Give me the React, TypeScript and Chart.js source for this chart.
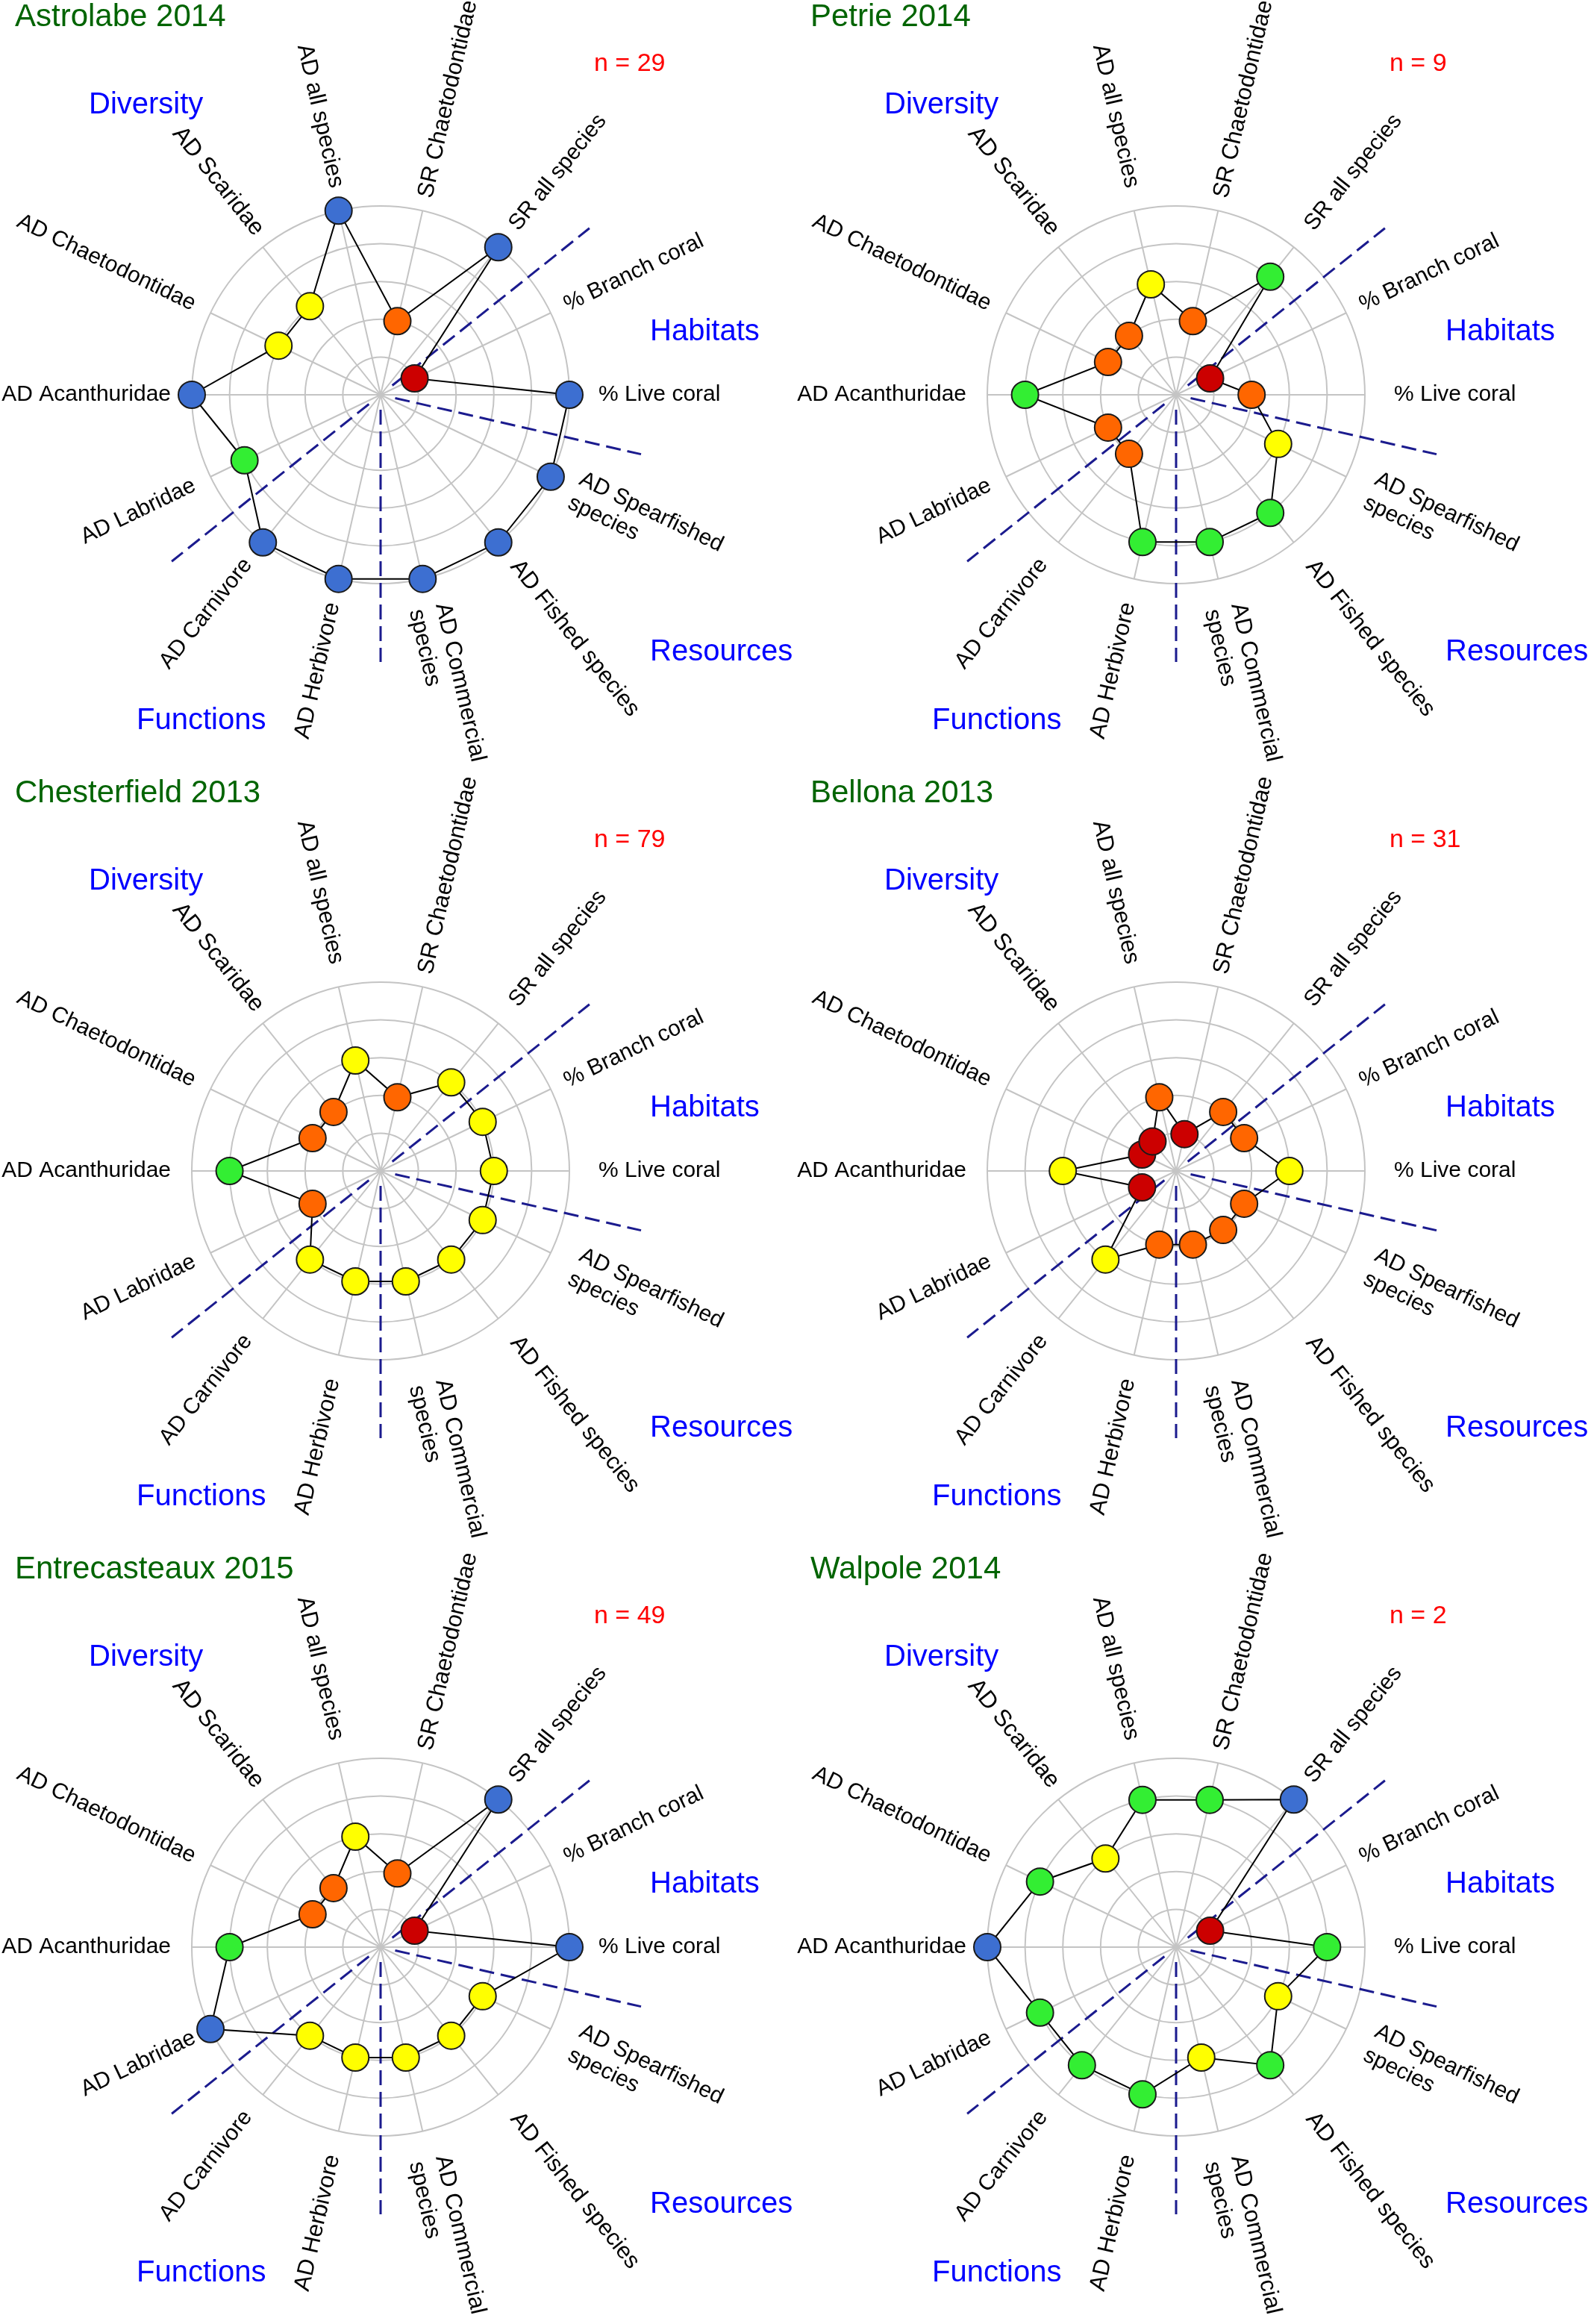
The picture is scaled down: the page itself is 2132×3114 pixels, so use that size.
import React, { useEffect, useRef } from 'react';
import { Chart, registerables } from 'chart.js';

Chart.register(...registerables);

// Axis labels, listed clockwise starting at the right-hand (east) axis
const AXIS_LABELS: string[][] = [
  ['% Live coral'],
  ['AD Spearfished', 'species'],
  ['AD Fished species'],
  ['AD Commercial', 'species'],
  ['AD Herbivore'],
  ['AD Carnivore'],
  ['AD Labridae'],
  ['AD Acanthuridae'],
  ['AD Chaetodontidae'],
  ['AD Scaridae'],
  ['AD all species'],
  ['SR Chaetodontidae'],
  ['SR all species'],
  ['% Branch coral'],
];

const SITE_NAMES = [
  'Astrolabe 2014',
  'Petrie 2014',
  'Chesterfield 2013',
  'Bellona 2013',
  'Entrecasteaux 2015',
  'Walpole 2014',
];
const SITE_N = [29, 9, 79, 31, 49, 2];

// Scores (1-5) in the same order as AXIS_LABELS
const ASTROLABE_2014 = [5, 5, 5, 5, 5, 5, 4, 5, 3, 3, 5, 2, 5, 1];
const PETRIE_2014 = [2, 3, 4, 4, 4, 2, 2, 4, 2, 2, 3, 2, 4, 1];
const CHESTERFIELD_2013 = [3, 3, 3, 3, 3, 3, 2, 4, 2, 2, 3, 2, 3, 3];
const BELLONA_2013 = [3, 2, 2, 2, 2, 3, 1, 3, 1, 1, 2, 1, 2, 2];
const ENTRECASTEAUX_2015 = [5, 3, 3, 3, 3, 3, 5, 4, 2, 2, 3, 2, 5, 1];
const WALPOLE_2014 = [4, 3, 4, 3, 4, 4, 4, 5, 4, 3, 4, 4, 5, 1];

const SITE_VALUES = [
  ASTROLABE_2014,
  PETRIE_2014,
  CHESTERFIELD_2013,
  BELLONA_2013,
  ENTRECASTEAUX_2015,
  WALPOLE_2014,
];

const SCALE_MIN = 0;
const SCALE_MAX = 5;

const CATEGORY_NAMES = ['Diversity', 'Habitats', 'Resources', 'Functions'];
// divider drawn between axis i and axis i+1
const DIVIDER_AFTER = [0, 3, 5, 12];

// ---- styles / layout ----
const SCORE_COLORS = ['#CC0000', '#FF6600', '#FFFF00', '#33EE33', '#3D6FD1'];
const FONT = '"Liberation Sans", Arial, Helvetica, sans-serif';
const PW = 1066;
const PH = 1040;
const CX = 510;
const CY = 529;
const R = 253;
// per-label styling: radial gap past the outer ring, font size, sideways shift
const LABEL_GAP = [39, 37, 35, 38, 33, 32, 24, 28, 24, 18, 31, 18, 33, 22];
const LABEL_SIZE = [30, 30, 31, 31, 31, 30, 30, 30, 30, 31.5, 31, 31, 30, 30];
const LABEL_SHIFT = [0, 2, 0, 0, 0, 0, 0, 0, 0, -8, -4, 0, 0, 0];
const CATEGORY_POS: [number, number][] = [
  [119, 152],
  [871, 456],
  [871, 885],
  [183, 977],
];

const decorPlugin = {
  id: 'decor',
  beforeDatasetsDraw(chart: any) {
    const s = chart.scales.r;
    const ctx = chart.ctx as CanvasRenderingContext2D;
    const n = chart.data.labels.length;
    ctx.save();
    ctx.strokeStyle = '#1B1B8E';
    ctx.lineWidth = 3;
    ctx.setLineDash([20, 9]);
    DIVIDER_AFTER.forEach((i) => {
      const a1 = s.getIndexAngle(i);
      const a2 = s.getIndexAngle((i + 1) % n) + (i + 1 === n ? Math.PI * 2 : 0);
      const a = (a1 + a2) / 2 - Math.PI / 2;
      const r0 = 20;
      const r1 = 358;
      ctx.beginPath();
      ctx.moveTo(s.xCenter + Math.cos(a) * r0, s.yCenter + Math.sin(a) * r0);
      ctx.lineTo(s.xCenter + Math.cos(a) * r1, s.yCenter + Math.sin(a) * r1);
      ctx.stroke();
    });
    ctx.restore();
  },
  afterDraw(chart: any, _args: any, opts: any) {
    const s = chart.scales.r;
    const ctx = chart.ctx as CanvasRenderingContext2D;
    const labels: string[][] = chart.data.labels;
    ctx.save();
    // axis labels, rotated along their spoke
    ctx.fillStyle = '#000000';
    ctx.textBaseline = 'middle';
    labels.forEach((lines, i) => {
      const size = LABEL_SIZE[i];
      const lh = size * 1.17;
      ctx.font = `${size}px ${FONT}`;
      const p = s.getPointPosition(i, s.drawingArea + LABEL_GAP[i]);
      const a = p.angle;
      const right = Math.cos(a) >= 0;
      ctx.save();
      ctx.translate(p.x, p.y);
      ctx.rotate(right ? a : a + Math.PI);
      ctx.textAlign = right ? 'left' : 'right';
      lines.forEach((t, k) => {
        ctx.fillText(t, 0, (k - (lines.length - 1) / 2) * lh + LABEL_SHIFT[i]);
      });
      ctx.restore();
    });
    ctx.textBaseline = 'alphabetic';
    ctx.textAlign = 'left';
    // title
    ctx.fillStyle = '#006400';
    ctx.font = `42px ${FONT}`;
    ctx.fillText(opts.title, 20, 35);
    // n
    ctx.fillStyle = '#FF0000';
    ctx.font = `34px ${FONT}`;
    ctx.fillText(`n = ${opts.n}`, 796, 95);
    // categories
    ctx.fillStyle = '#0000FF';
    ctx.font = `40px ${FONT}`;
    CATEGORY_NAMES.forEach((c, i) => {
      ctx.fillText(c, CATEGORY_POS[i][0], CATEGORY_POS[i][1]);
    });
    ctx.restore();
  },
};

function Panel({ index }: { index: number }) {
  const ref = useRef<HTMLCanvasElement>(null);
  useEffect(() => {
    const values = SITE_VALUES[index];
    const chart = new Chart(ref.current as HTMLCanvasElement, {
      type: 'radar',
      data: {
        labels: AXIS_LABELS as any,
        datasets: [
          {
            data: values,
            borderColor: '#000000',
            borderWidth: 2,
            fill: false,
            tension: 0,
            pointRadius: 18,
            pointHoverRadius: 18,
            pointBorderWidth: 2,
            pointBorderColor: '#1A1A1A',
            pointBackgroundColor: values.map((v) => SCORE_COLORS[v - 1]),
            clip: false,
          } as any,
        ],
      },
      options: {
        responsive: false,
        animation: false,
        devicePixelRatio: 1,
        events: [],
        layout: {
          padding: {
            left: CX - R,
            top: CY - R,
            right: PW - CX - R,
            bottom: PH - CY - R,
          },
        },
        scales: {
          r: {
            min: SCALE_MIN,
            max: SCALE_MAX,
            startAngle: 90,
            ticks: { display: false, stepSize: 1 },
            pointLabels: { display: false },
            grid: { circular: true, color: '#C4C4C4', lineWidth: 2 },
            angleLines: { color: '#C4C4C4', lineWidth: 2 },
          },
        },
        plugins: {
          legend: { display: false },
          tooltip: { enabled: false },
          decor: { title: SITE_NAMES[index], n: SITE_N[index] },
        } as any,
      },
      plugins: [decorPlugin],
    });
    return () => chart.destroy();
  }, [index]);
  const col = index % 2;
  const row = Math.floor(index / 2);
  return (
    <canvas
      ref={ref}
      width={PW}
      height={PH}
      style={{ position: 'absolute', left: col * PW, top: row * PH, width: PW, height: PH }}
    />
  );
}

export default function App() {
  return (
    <div
      style={{
        position: 'absolute',
        left: 0,
        top: 0,
        width: 2132,
        height: 3114,
        overflow: 'hidden',
        background: '#FFFFFF',
      }}
    >
      {SITE_NAMES.map((_, i) => (
        <Panel key={i} index={i} />
      ))}
    </div>
  );
}
